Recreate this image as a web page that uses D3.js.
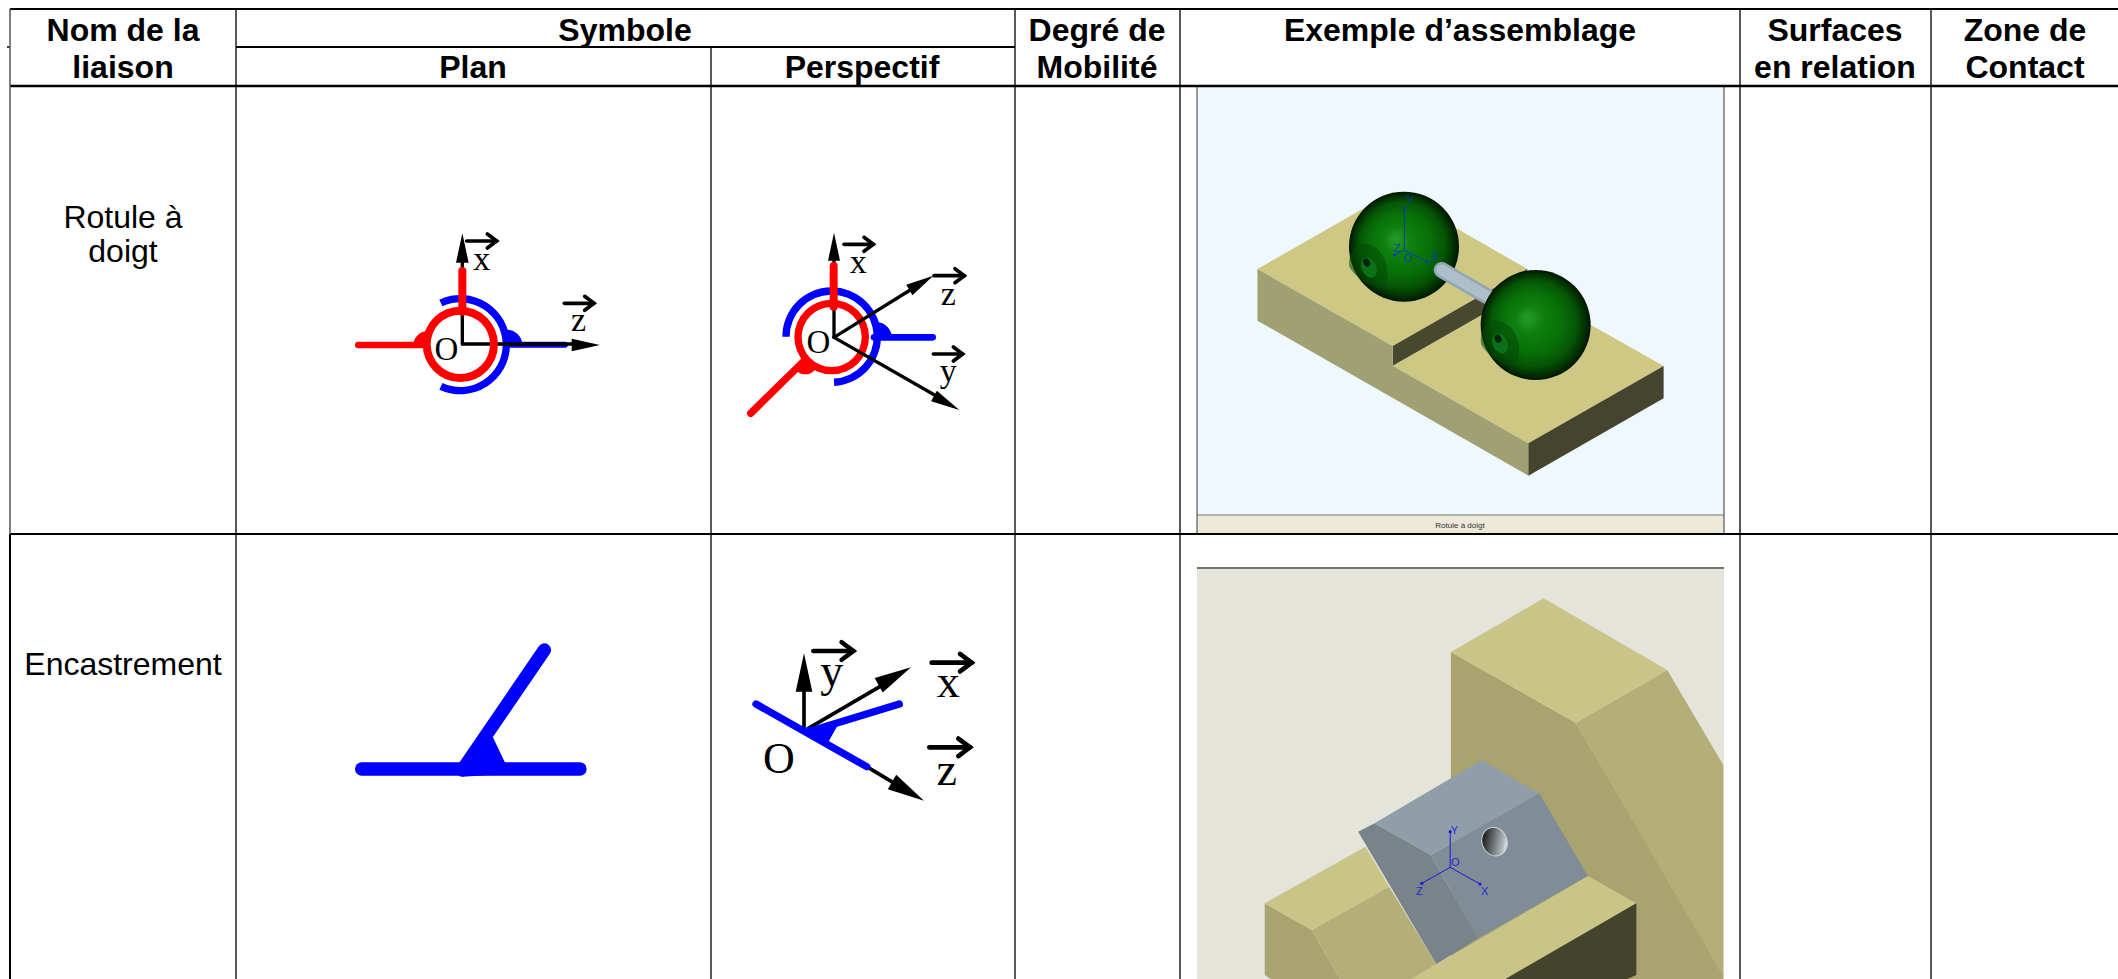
<!DOCTYPE html>
<html><head><meta charset="utf-8">
<script src="https://cdnjs.cloudflare.com/ajax/libs/d3/7.8.5/d3.min.js"></script>
<style>html,body{margin:0;padding:0;background:#fff}svg{display:block}</style></head>
<body><svg id="c" width="2118" height="979"></svg>
<script>
// ---- table content
const columnEdges = [10, 236, 711, 1015, 1180, 1740, 1931];
const rowEdges = [9, 47, 86, 534];
const headers = [
  {x:123, lines:["Nom de la","liaison"]},
  {x:1460, lines:["Exemple d’assemblage"]},
  {x:1097, lines:["Degré de","Mobilité"]},
  {x:1835, lines:["Surfaces","en relation"]},
  {x:2025, lines:["Zone de","Contact"]}
];
const subHeaders = [{x:625,y:41,t:"Symbole"},{x:473,y:78,t:"Plan"},{x:862,y:78,t:"Perspectif"}];
const rowLabels = [{x:123,y:228,t:"Rotule à"},{x:123,y:262,t:"doigt"},{x:123,y:675,t:"Encastrement"}];

// ---- symbols: geometry in magnified-crop units
const planBlueArc = {c:[391,404],r:[127,149],a:[-25,205]};
const planRedRing = {c:[391,403],r:[89,113]};
const planLines = [
 {c:"#f00",w:20,p:[[85,405],[290,405]]},
 {c:"#00f",w:18,p:[[530,404],[705,404]]},
 {c:"#000",w:10,p:[[397,402],[397,100]]},
 {c:"#000",w:10,p:[[397,402],[740,402]]},
 {c:"#f00",w:24,p:[[397,183],[397,305]]}
];
const planMounds = [{c:[292,406],r:42,a:[-90,0],f:"#f00"},{c:[530,406],r:47,a:[0,90],f:"#00f"}];
const planHeads = [{t:[397,70],b:[397,158],h:19},{t:[810,405],b:[725,405],h:19}];
const planVec = [[410,93,500],[703,280,792]];
const planText = [{t:"x",x:455,y:179,s:34},{t:"z",x:746,y:362,s:34},{t:"O",x:349,y:449,s:33}];

const perBlueArc = {c:[305,380],r:[126,148],a:[-90,177]};
const perRedRing = {c:[305,381],r:[90,112]};
const perLines = [
 {c:"#f00",w:22,p:[[62,610],[225,450]]},
 {c:"#00f",w:20,p:[[432,382],[608,382]]},
 {c:"#000",w:10,p:[[312,382],[312,100]]},
 {c:"#000",w:10,p:[[312,382],[560,228]]},
 {c:"#000",w:10,p:[[312,382],[640,570]]},
 {c:"#f00",w:24,p:[[311,168],[311,290]]}
];
const perMounds = [{c:[440,382],r:45,a:[0,90],f:"#00f"},{c:[226,455],r:38,a:[130,230],f:"#f00"}];
const perHeads = [{t:[312,68],b:[312,152],h:18},{t:[610,197],b:[538,240],h:18},{t:[688,600],b:[612,558],h:18}];
const perVec = [[342,103,430],[612,197,703],[610,432,698]];
const perText = [{t:"x",x:385,y:188,s:34},{t:"z",x:655,y:284,s:34},{t:"y",x:655,y:516,s:34},{t:"O",x:265,y:428,s:33}];

const encPlanLines = [
 {c:"#00f",w:40,p:[[65,447],[720,447]]},
 {c:"#00f",w:40,p:[[367,450],[613,90]]}
];
const encPlanWedge = [[360,428],[458,350],[497,432],[497,462],[367,470]];

const encPerLines = [
 {c:"#000",w:11,p:[[192,325],[192,200]]},
 {c:"#000",w:11,p:[[205,325],[440,188]]},
 {c:"#000",w:11,p:[[380,440],[480,500]]},
 {c:"#00f",w:22,p:[[48,252],[380,440]]},
 {c:"#00f",w:22,p:[[205,335],[478,252]]}
];
const encPerWedge = [[198,322],[292,318],[265,366],[230,362]];
const encPerHeads = [{t:[192,100],b:[192,215],h:25},{t:[513,142],b:[416,196],h:25},{t:[552,542],b:[456,486],h:25}];
const encPerVec = [[220,93,340],[575,128,695],[568,382,690]];
const encPerText = [{t:"y",x:275,y:197,s:46},{t:"x",x:625,y:232,s:46},{t:"z",x:620,y:494,s:46},{t:"O",x:117,y:458,s:44}];

// ---- first assembly picture, crop units
const tray = {
 top1:[[213,567],[585,335],[955,567],[585,798]],
 top2:[[585,857],[955,627],[1330,858],[958,1090]],
 slot:[[585,798],[955,567],[955,627],[585,857]],
 left:[[213,567],[213,722],[958,1187],[958,1090],[585,857],[585,798]],
 right:[[958,1090],[958,1187],[1330,955],[1330,858]]
};
const balls = [{c:[312,230],p:[205,295],h:[207,293],d:[200,278]},{c:[707,465],p:[600,525],h:[600,520],d:[594,506]}];
const rod = [[425,300],[560,378]];
const frameAxes = [
 {o:[1404.4,250],e:[[1404.4,208],[1394.5,255],[1427,261.7]],c:"#0a3ab0",l:[["Y",1410,204],["Z",1397,252],["O",1408,262],["X",1434.5,260]]},
 {o:[1450.2,867.3],e:[[1450.2,831.7],[1421.8,883.3],[1480,884]],c:"#1a1ad8",l:[["Y",1454.5,834],["O",1455.3,866],["Z",1419.3,895],["X",1484.7,895]]}
];

// ---- second assembly picture, crop units
const vise = [
 {f:"#a8a36f",p:[[745,366],[1088,578],[1494,1330],[1494,1347],[745,1347]]},
 {f:"#b4af78",p:[[1088,578],[1340,420],[1494,705],[1494,1340]]},
 {f:"#c9c488",p:[[745,366],[1000,205],[1340,420],[1088,578]]},
 {f:"#a8a36f",p:[[233,1120],[362,1200],[440,1347],[250,1347],[233,1335]]},
 {f:"#b4af78",p:[[362,1200],[575,1070],[705,1303],[640,1347],[440,1347]]},
 {f:"#c9c488",p:[[233,1120],[510,950],[575,1070],[362,1200]]},
 {f:"#8f9ea8",p:[[535,880],[830,690],[988,790],[690,975]]},
 {f:"#79838a",p:[[490,905],[535,880],[690,975],[820,1225],[705,1303]]},
 {f:"#808d96",p:[[690,975],[988,790],[1122,1038],[820,1225]]},
 {f:"#c9c488",p:[[705,1303],[1122,1038],[1255,1120],[895,1347],[635,1347]]},
 {f:"#44442c",p:[[1255,1120],[1255,1335],[1230,1347],[895,1347]]}
];
const viseHole = {c:[865,935],rot:-20};

// ---- scales from crop units to the page
const crop = (x0,w,y0,h,kx,ky)=>({x:d3.scaleLinear([0,w*kx],[x0,x0+w]),y:d3.scaleLinear([0,h*ky],[y0,y0+h])});
const sPlan = crop(330,300,210,210,3,3), sPer = crop(730,260,210,220,3,3);
const sEncPlan = crop(340,270,620,180,3,3), sEncPer = crop(740,250,620,200,3,3);
const sTray = crop(1180,570,80,460,2.75,3), sBall = crop(1300,300,170,250,3,3), sVise = crop(1180,570,530,449,2.75,3);

const svg = d3.select("#c"), defs = svg.append("defs");
const sans = "'Liberation Sans',Arial,sans-serif", serif = "'Liberation Serif','Times New Roman',serif";
const rad = d=>d*Math.PI/180;
const path = s=>d3.line().x(d=>s.x(d[0])).y(d=>s.y(d[1]));
const k = s=>s.x(1)-s.x(0);

function poly(g,s,pts,fill){g.append("path").attr("d",path(s)(pts)+"Z").attr("fill",fill);}
function lines(g,s,arr){arr.forEach(l=>g.append("path").attr("d",path(s)(l.p)).attr("fill","none").attr("stroke",l.c).attr("stroke-width",l.w*k(s)).attr("stroke-linecap","round"));}
function head(g,s,a){
  const dx=a.t[0]-a.b[0],dy=a.t[1]-a.b[1],n=Math.hypot(dx,dy),ux=-dy/n,uy=dx/n;
  poly(g,s,[a.t,[a.b[0]+ux*a.h,a.b[1]+uy*a.h],[a.b[0]-ux*a.h,a.b[1]-uy*a.h]],"#000");
}
function vec(g,s,v,b,w){
  const [x0,y,x1]=v;
  g.append("path").attr("d",path(s)([[x0,y],[x1,y]])).attr("stroke","#000").attr("fill","none").attr("stroke-width",w*k(s)).attr("stroke-linecap","round");
  g.append("path").attr("d",path(s)([[x1-b,y-b*0.75],[x1,y],[x1-b,y+b*0.75]])).attr("stroke","#000").attr("fill","none").attr("stroke-width",w*k(s)).attr("stroke-linecap","round");
}
function ring(g,s,o,fill){
  const f=k(s),a=d3.arc().innerRadius(o.r[0]*f).outerRadius(o.r[1]*f).startAngle(o.a?rad(o.a[0]):0).endAngle(o.a?rad(o.a[1]):2*Math.PI);
  g.append("path").attr("transform",`translate(${s.x(o.c[0])},${s.y(o.c[1])})`).attr("d",a()).attr("fill",fill);
}
function mound(g,s,m){
  const a=d3.arc().innerRadius(0).outerRadius(m.r*k(s)).startAngle(rad(m.a[0])).endAngle(rad(m.a[1]));
  g.append("path").attr("transform",`translate(${s.x(m.c[0])},${s.y(m.c[1])})`).attr("d",a()).attr("fill",m.f);
}
function letters(g,s,arr){arr.forEach(t=>g.append("text").attr("x",s.x(t.x)).attr("y",s.y(t.y)).attr("text-anchor","middle").attr("font-family",serif).attr("font-size",t.s).text(t.t));}

// ---- first picture
const bgTop = svg.append("g");
bgTop.append("rect").attr("x",1197).attr("y",87).attr("width",527).attr("height",428).attr("fill","#eff8fe");
bgTop.append("rect").attr("x",1197).attr("y",515).attr("width",527).attr("height",19).attr("fill","#ece9d9");
bgTop.append("line").attr("x1",1197).attr("x2",1724).attr("y1",515).attr("y2",515).attr("stroke","#777").attr("stroke-width",1.2);
[1197,1724].forEach(x=>bgTop.append("line").attr("x1",x).attr("x2",x).attr("y1",87).attr("y2",534).attr("stroke","#555").attr("stroke-width",1.2));
bgTop.append("text").attr("x",1460).attr("y",528).attr("text-anchor","middle").attr("font-family",sans).attr("font-size",8).attr("fill","#333").text("Rotule à doigt");
poly(bgTop,sTray,tray.top1,"#cfc884");
poly(bgTop,sTray,tray.top2,"#cfc884");
poly(bgTop,sTray,tray.slot,"#48482f");
poly(bgTop,sTray,tray.left,"#9fa172");
poly(bgTop,sTray,tray.right,"#44442f");

const g1 = defs.append("radialGradient").attr("id","ballG").attr("cx",.5).attr("cy",.5).attr("r",.5).attr("fx",.42).attr("fy",.43);
[[0,"#249c24"],[.12,"#1d8f1d"],[.25,"#0f8010"],[.55,"#087008"],[.78,"#055505"],[.92,"#022f02"],[1,"#001400"]].forEach(d=>g1.append("stop").attr("offset",d[0]).attr("stop-color",d[1]));
function ball(b,i){
  const g=svg.append("g"),sb=sBall,r=165*k(sb);
  const id="clipBall"+i;
  defs.append("clipPath").attr("id",id).append("circle").attr("cx",sb.x(b.c[0])).attr("cy",sb.y(b.c[1])).attr("r",r);
  g.append("circle").attr("cx",sb.x(b.c[0])).attr("cy",sb.y(b.c[1])).attr("r",r).attr("fill","url(#ballG)");
  const e=(c,rx,ry,f,rot,o)=>g.append("ellipse").attr("clip-path",`url(#${id})`).attr("transform",`rotate(${rot} ${sb.x(c[0])} ${sb.y(c[1])})`).attr("cx",sb.x(c[0])).attr("cy",sb.y(c[1])).attr("rx",rx*k(sb)).attr("ry",ry*k(sb)).attr("fill",f).attr("opacity",o);
  e(b.p,55,76,"#044a05",-20,.55);
  e(b.h,22,32,"#0b7018",-25,1);
  e(b.d,10,13,"#01240e",-25,1);
}
ball(balls[0],0);
[["#93a6b4",16],["#aebfcc",11]].forEach(([c,w])=>svg.append("path").attr("d",path(sBall)(rod)).attr("stroke",c).attr("stroke-width",w).attr("stroke-linecap","round").attr("fill","none"));
ball(balls[1],1);

// ---- second picture
defs.append("clipPath").attr("id","viseClip").append("rect").attr("x",1197).attr("y",567).attr("width",527).attr("height",412);
const gv = svg.append("g").attr("clip-path","url(#viseClip)");
gv.append("rect").attr("x",1197).attr("y",567).attr("width",527).attr("height",412).attr("fill","#e4e4da");
gv.append("rect").attr("x",1197).attr("y",567).attr("width",527).attr("height",2).attr("fill","#6f766f");
vise.forEach(f=>poly(gv,sVise,f.p,f.f));
const hg = defs.append("linearGradient").attr("id","holeG").attr("x1",.1).attr("y1",.1).attr("x2",1).attr("y2",.7);
[[0,"#0c0c0c"],[.5,"#707578"],[.85,"#b8c0c4"],[1,"#eef2f3"]].forEach(d=>hg.append("stop").attr("offset",d[0]).attr("stop-color",d[1]));
gv.append("ellipse").attr("transform",`rotate(${viseHole.rot} ${sVise.x(viseHole.c[0])} ${sVise.y(viseHole.c[1])})`).attr("cx",sVise.x(viseHole.c[0])).attr("cy",sVise.y(viseHole.c[1])).attr("rx",12.5).attr("ry",14.5).attr("fill","url(#holeG)").attr("stroke","#c7d0d4").attr("stroke-width",1);

// ---- little blue frames
frameAxes.forEach(a=>{
  const g=svg.append("g");
  a.e.forEach(e=>{
    g.append("line").attr("x1",a.o[0]).attr("y1",a.o[1]).attr("x2",e[0]).attr("y2",e[1]).attr("stroke",a.c).attr("stroke-width",1);
    g.append("circle").attr("cx",e[0]).attr("cy",e[1]).attr("r",1.6).attr("fill",a.c);
  });
  a.l.forEach(l=>g.append("text").attr("x",l[1]).attr("y",l[2]).attr("text-anchor","middle").attr("font-family",sans).attr("font-size",11).attr("fill",a.c).attr("opacity",.9).text(l[0]));
});

// ---- symbols
const gPlan = svg.append("g");
ring(gPlan,sPlan,planBlueArc,"#00f");
lines(gPlan,sPlan,planLines.slice(0,2));
planMounds.forEach(m=>mound(gPlan,sPlan,m));
lines(gPlan,sPlan,planLines.slice(2,4));
ring(gPlan,sPlan,planRedRing,"#f00");
lines(gPlan,sPlan,planLines.slice(4));
planHeads.forEach(h=>head(gPlan,sPlan,h));
planVec.forEach(v=>vec(gPlan,sPlan,v,28,11));
letters(gPlan,sPlan,planText);

const gPer = svg.append("g");
ring(gPer,sPer,perBlueArc,"#00f");
lines(gPer,sPer,perLines.slice(0,2));
perMounds.forEach(m=>mound(gPer,sPer,m));
ring(gPer,sPer,perRedRing,"#f00");
lines(gPer,sPer,perLines.slice(2,5));
lines(gPer,sPer,perLines.slice(5));
perHeads.forEach(h=>head(gPer,sPer,h));
perVec.forEach(v=>vec(gPer,sPer,v,28,11));
letters(gPer,sPer,perText);

const gEP = svg.append("g");
lines(gEP,sEncPlan,encPlanLines);
poly(gEP,sEncPlan,encPlanWedge,"#00f");

const gEQ = svg.append("g");
lines(gEQ,sEncPer,encPerLines);
poly(gEQ,sEncPer,encPerWedge,"#00f");
encPerHeads.forEach(h=>head(gEQ,sEncPer,h));
encPerVec.forEach(v=>vec(gEQ,sEncPer,v,35,14));
letters(gEQ,sEncPer,encPerText);

// ---- grid
const grid = svg.append("g").attr("stroke","#000");
const hl=(x1,x2,y,w)=>grid.append("line").attr("x1",x1).attr("x2",x2).attr("y1",y).attr("y2",y).attr("stroke-width",w);
const vl=(x,y1,y2,w,c)=>grid.append("line").attr("x1",x).attr("x2",x).attr("y1",y1).attr("y2",y2).attr("stroke-width",w).attr("stroke",c||"#000");
hl(columnEdges[0],2118,rowEdges[0],2.2);
hl(columnEdges[1],columnEdges[3],rowEdges[1],2);
hl(columnEdges[0],2118,rowEdges[2],2.4);
hl(columnEdges[0],2118,rowEdges[3],2);
hl(7,columnEdges[0],rowEdges[1],1.5);
vl(columnEdges[0],rowEdges[0],rowEdges[3],1.5,"#555");
vl(columnEdges[0],rowEdges[3],979,2);
[1,3,4,5,6].forEach(i=>vl(columnEdges[i],rowEdges[0],979,1.3));
vl(columnEdges[2],rowEdges[1],979,1.3);

// ---- text
const tg = svg.append("g").attr("font-family",sans).attr("fill","#000").attr("text-anchor","middle");
headers.forEach(h=>h.lines.forEach((t,i)=>tg.append("text").attr("x",h.x).attr("y",41+i*37).attr("font-size",32).attr("font-weight","bold").text(t)));
subHeaders.forEach(h=>tg.append("text").attr("x",h.x).attr("y",h.y).attr("font-size",32).attr("font-weight","bold").text(h.t));
rowLabels.forEach(h=>tg.append("text").attr("x",h.x).attr("y",h.y).attr("font-size",32).text(h.t));
</script></body></html>
